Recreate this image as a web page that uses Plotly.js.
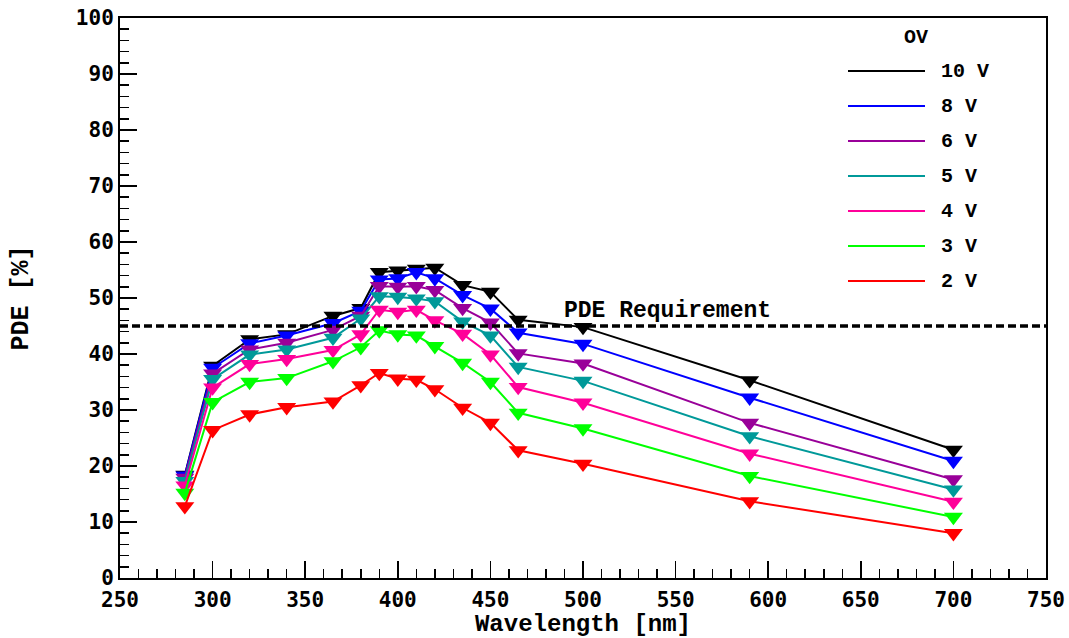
<!DOCTYPE html>
<html>
<head>
<meta charset="utf-8">
<script src="https://cdn.plot.ly/plotly-3.0.1.min.js"></script>
<style>html,body{margin:0;padding:0;background:#fff;}#chart{width:1069px;height:638px;}</style>
</head>
<body>
<div id="chart"></div>
<script>
// ---- data ----
const wavelengths = [285, 300, 320, 340, 365, 380, 390, 400, 410, 420, 435, 450, 465, 500, 590, 700];
const pde10V = [18.4, 37.9, 42.6, 43.5, 46.8, 48.2, 54.6, 54.9, 55.2, 55.4, 52.3, 51.1, 46.1, 44.8, 35.3, 22.9];
const pde8V  = [18.3, 37.5, 41.9, 43.3, 45.5, 47.7, 53.3, 53.5, 54.6, 53.5, 50.5, 48.1, 43.8, 41.8, 32.2, 20.9];
const pde6V  = [17.9, 36.5, 40.8, 42.0, 44.3, 46.8, 52.1, 52.0, 52.1, 51.4, 48.2, 45.6, 40.1, 38.3, 27.7, 17.6];
const pde5V  = [17.3, 35.5, 39.9, 40.8, 42.9, 46.3, 50.3, 50.2, 49.9, 49.4, 45.8, 43.3, 37.7, 35.2, 25.3, 15.8];
const pde4V  = [16.5, 34.0, 38.2, 39.1, 40.7, 43.5, 47.9, 47.5, 47.9, 46.0, 43.6, 39.9, 34.1, 31.3, 22.2, 13.6];
const pde3V  = [15.2, 31.4, 35.0, 35.7, 38.7, 41.2, 44.2, 43.5, 43.3, 41.4, 38.4, 35.0, 29.5, 26.7, 18.2, 10.9];
const pde2V  = [12.8, 26.4, 29.2, 30.5, 31.5, 34.4, 36.6, 35.6, 35.4, 33.7, 30.4, 27.7, 22.8, 20.4, 13.7, 8.0];
const seriesNames = ["10 V", "8 V", "6 V", "5 V", "4 V", "3 V", "2 V"];
const seriesValues = [pde10V, pde8V, pde6V, pde5V, pde4V, pde3V, pde2V];
const seriesColors = ["#000000", "#0000ff", "#990099", "#009999", "#ff0099", "#00ff00", "#ff0000"];
const requirementX = [250, 750];
const requirementY = [45, 45];
const requirementLabel = "PDE Requirement";
const legendTitle = "OV";

// ---- layout helpers ----
const W = 1069, H = 638;
const M = {l: 120, r: 23, t: 18, b: 60};
const pw = W - M.l - M.r, ph = H - M.t - M.b;
const px2x = px => (px - M.l) / pw;
const py2y = py => (H - M.b - py) / ph;

const mono = "Liberation Mono, Courier New, monospace";
const tickFont = {family: "DejaVu Sans Mono", size: 21, color: "#000", weight: 700};

const traces = [];
seriesNames.forEach((name, i) => {
  traces.push({
    x: wavelengths, y: seriesValues[i], name: name,
    type: "scatter", mode: "lines+markers", showlegend: false,
    line: {color: seriesColors[i], width: 2},
    marker: {symbol: "triangle-down", size: 16.5, color: seriesColors[i], line: {width: 0}}
  });
});
traces.push({
  x: requirementX, y: requirementY, type: "scatter", mode: "lines", showlegend: false,
  line: {color: "#000", width: 3.5, dash: "8px,4px"}, hoverinfo: "skip"
});

const shapes = [];
const annotations = [];
seriesNames.forEach((name, i) => {
  const yy = py2y(71 + i * 35);
  shapes.push({type: "line", xref: "paper", yref: "paper", x0: px2x(848), x1: px2x(925), y0: yy, y1: yy,
    line: {color: seriesColors[i], width: 2}});
  annotations.push({xref: "paper", yref: "paper", x: px2x(939), y: yy, xanchor: "left", yanchor: "middle",
    text: name, showarrow: false, font: {family: mono, size: 20, color: "#000", weight: 700}});
});
annotations.push({xref: "paper", yref: "paper", x: px2x(916), y: py2y(38), xanchor: "center", yanchor: "middle",
  text: legendTitle, showarrow: false, font: {family: mono, size: 20, color: "#000", weight: 700}});
annotations.push({xref: "x", yref: "y", x: 545.5, y: 47.6, xanchor: "center", yanchor: "middle",
  text: requirementLabel, showarrow: false, font: {family: mono, size: 23, color: "#000", weight: 700}});

const layout = {
  width: W, height: H,
  margin: M,
  paper_bgcolor: "#fff", plot_bgcolor: "#fff",
  showlegend: false,
  xaxis: {
    range: [250, 750], dtick: 50, tick0: 250,
    ticks: "inside", ticklen: 17, tickwidth: 1.5, tickcolor: "#000",
    minor: {dtick: 10, ticks: "inside", ticklen: 9, tickwidth: 1.5, tickcolor: "#000", showgrid: false},
    showline: true, linecolor: "#000", linewidth: 2, mirror: true,
    showgrid: false, zeroline: false,
    tickfont: tickFont, ticklabelstandoff: 2,
    title: {text: "Wavelength [nm]", font: {family: mono, size: 24, color: "#000", weight: 700}, standoff: 12}
  },
  yaxis: {
    range: [0, 100], dtick: 10, tick0: 0,
    ticks: "inside", ticklen: 17, tickwidth: 1.5, tickcolor: "#000",
    minor: {dtick: 2, ticks: "inside", ticklen: 9, tickwidth: 1.5, tickcolor: "#000", showgrid: false},
    showline: true, linecolor: "#000", linewidth: 2, mirror: true,
    showgrid: false, zeroline: false,
    tickfont: tickFont,
    title: {text: "PDE [%]", font: {family: mono, size: 25, color: "#000", weight: 700}, standoff: 40}
  },
  shapes: shapes,
  annotations: annotations
};

Plotly.newPlot("chart", traces, layout, {staticPlot: true, displayModeBar: false});
</script>
</body>
</html>
